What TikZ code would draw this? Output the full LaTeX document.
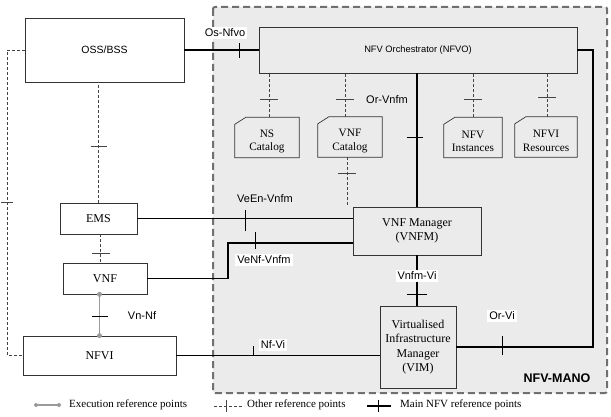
\documentclass[tikz,border=0pt]{standalone}
\usepackage{fontspec}
\setmainfont{Liberation Serif}
\setsansfont{Liberation Sans}
\definecolor{manobg}{HTML}{EBEBEB}
\definecolor{manoedge}{HTML}{707070}
\definecolor{refgray}{HTML}{444444}
\definecolor{execgray}{HTML}{9A9A9A}
\tikzset{
  box/.style={draw=black!80,line width=0.7pt,minimum width=#1,inner sep=1pt,align=center,font=\fontsize{12}{14.5}\selectfont},
  cat/.style={minimum width=#1,minimum height=40pt,inner sep=1pt,align=center,font=\fontsize{11.3}{13.5}\selectfont},
  catedge/.style={draw=black!80,line width=0.7pt},
  lbl/.style={font=\sffamily\fontsize{11}{13}\selectfont,inner sep=2pt},
  wlbl/.style={lbl,fill=white},
  mainref/.style={line width=1.7pt,black},
  otherref/.style={line width=0.8pt,refgray,dash pattern=on 3pt off 2pt},
  execref/.style={line width=1.6pt,execgray},
  tick/.style={line width=1pt,black},
  otick/.style={line width=0.8pt,refgray},
  dot/.style={circle,fill=execgray,inner sep=0pt,minimum size=5pt},
  legtxt/.style={font=\fontsize{11}{13}\selectfont,anchor=west,inner sep=0pt},
}
\begin{document}
\begin{tikzpicture}[x=1pt,y=-1pt]
\useasboundingbox (0,0) rectangle (611,417);
% MANO region
\draw[manoedge,fill=manobg,line width=2pt,dash pattern=on 7pt off 4pt,rounded corners=2pt] (213,7) rectangle (607,393);
\node[font=\sffamily\bfseries\fontsize{12.5}{14}\selectfont] (manolbl) at (557,378) {NFV-MANO};

% boxes
\node[box=159pt,minimum height=64pt,fill=white,font=\sffamily\fontsize{10.5}{12}\selectfont] (oss) at (104.5,50) {OSS/BSS};
\node[box=318pt,minimum height=46pt,font=\sffamily\fontsize{9.3}{11}\selectfont] (nfvo) at (418,50) {NFV Orchestrator (NFVO)};
\node[box=77pt,minimum height=31pt,fill=white] (ems) at (98.5,218.5) {EMS};
\node[box=84pt,minimum height=31pt,fill=white] (vnf) at (105,278.5) {VNF};
\node[box=153pt,minimum height=39pt,fill=white] (nfvi) at (99.5,355.5) {NFVI};
\node[box=128pt,minimum height=48pt] (vnfm) at (417,231) {VNF Manager\\(VNFM)};
\node[box=76pt,minimum height=82pt] (vim) at (418,347) {Virtualised\\Infrastructure\\Manager\\(VIM)};

% catalogs (text sits slightly low in the outline)
\node[cat=64pt] (ns) at (267,141.5) {NS\\Catalog};
\node[cat=64pt] (vnfc) at (350,141) {VNF\\Catalog};
\node[cat=58pt] (inst) at (473,141.5) {NFV\\Instances};
\node[cat=62pt] (res) at (546,141) {NFVI\\Resources};
\foreach \c in {ns,vnfc,inst,res}{
  \draw[catedge] ([yshift=4pt]\c.south west) -- ([yshift=4pt]\c.south east) -- ([yshift=4pt]\c.north east) -- ([xshift=11pt,yshift=4pt]\c.north west) -- ([yshift=-3pt]\c.north west) -- cycle;
}

% Os-Nfvo
\draw[mainref] (oss.east) -- (nfvo.west);
\draw[tick] (239,43) -- (239,58);
\node[wlbl] (osnfvo) at (225,33) {Os-Nfvo};

% left dashed OSS -- NFVI
\coordinate (lt) at (7,50);
\coordinate (lb) at (7,355.5);
\draw[otherref] (oss.west) -- (lt) -- (lb) -- (nfvi.west);
\draw[otick] (1,202) -- (13,202);

% OSS -- EMS
\draw[otherref] (ems.north) -- (ems.north |- oss.south);
\draw[otick] (90.5,146) -- (106.5,146);
% EMS -- VNF
\draw[otherref] ([xshift=1.5pt]ems.south) -- ([xshift=1.5pt]ems.south |- vnf.north);
\draw[otick] (92,253) -- (110,253);

% Vn-Nf
\draw[execref] (nfvi.north |- vnf.south) -- (nfvi.north);
\node[dot] (d1) at (nfvi.north |- vnf.south) {};
\node[dot] (d2) at (nfvi.north) {};
\draw[tick] (91.5,316) -- (107.5,316);
\node[lbl] (vnnf) at (142,316) {Vn-Nf};

% VeEn-Vnfm
\draw[mainref] (ems.east) -- (ems.east -| vnfm.west);
\draw[tick] (245,210) -- (245,231);
\node[lbl] (veen) at (265,199) {VeEn-Vnfm};

% VeNf-Vnfm
\coordinate (vk1) at (228,278.5);
\coordinate (vk2) at (228,243);
\draw[mainref] (vnf.east) -- (vk1) -- (vk2) -- (vk2 -| vnfm.west);
\draw[tick] (255,232) -- (255,249);
\node[wlbl] (venf) at (264,260) {VeNf-Vnfm};

% Nf-Vi
\draw[mainref] (nfvi.east) -- (nfvi.east -| vim.west);
\draw[tick] (253,346) -- (253,356);
\node[wlbl] (nfvilbl) at (273,345) {Nf-Vi};

% catalog references
\draw[otherref] ([xshift=2pt,yshift=4pt]ns.north) -- ([xshift=2pt]ns.north |- nfvo.south);
\draw[otick] (260,99) -- (278,99);
\draw[otherref] ([xshift=-5pt,yshift=4pt]vnfc.north) -- ([xshift=-5pt]vnfc.north |- nfvo.south);
\draw[otick] (336,99) -- (354,99);
\draw[otherref] ([xshift=-3pt,yshift=4pt]vnfc.south) -- ([xshift=-3pt]vnfc.south |- vnfm.north);
\draw[otick] (338,173) -- (356,173);
\draw[otherref] ([yshift=4pt]inst.north) -- (inst.north |- nfvo.south);
\draw[otick] (464,99) -- (482,99);
\draw[otherref] ([xshift=1pt,yshift=4pt]res.north) -- ([xshift=1pt]res.north |- nfvo.south);
\draw[otick] (538,97) -- (556,97);

% Or-Vnfm
\draw[mainref] (vnfm.north) -- (vnfm.north |- nfvo.south);
\draw[tick] (407,138) -- (423,138);
\node[lbl] (orvnfm) at (387,100) {Or-Vnfm};

% Vnfm-Vi
\draw[mainref] (vnfm.south) -- (vnfm.south |- vim.north);
\node[wlbl] (vnfmvi) at (417,276) {Vnfm-Vi};
\draw[tick] (407,294) -- (427,294);

% Or-Vi
\coordinate (ov1) at (593,50);
\coordinate (ov2) at (593,347);
\draw[mainref] (nfvo.east) -- (ov1) -- (ov2) -- (vim.east);
\draw[tick] (502,336) -- (502,355);
\node[wlbl] (orvi) at (502,316) {Or-Vi};

% legend
\coordinate (e1) at (36,405);
\coordinate (e2) at (59,405);
\draw[execref,line width=1.2pt] (e1) -- (e2);
\node[dot,minimum size=4pt] (e1d) at (e1) {};
\node[dot,minimum size=4pt] (e2d) at (e2) {};
\node[legtxt] (t1) at (69,405) {Execution reference points};
\coordinate (o1) at (214,406);
\coordinate (o2) at (244,406);
\draw[otherref,line width=0.7pt] (o1) -- (o2);
\draw[otick,line width=0.7pt] (226,400) -- (226,412);
\node[legtxt] (t2) at (247,405) {Other reference points};
\coordinate (m1) at (367,406);
\coordinate (m2) at (391,406);
\draw[mainref,line width=1.5pt] (m1) -- (m2);
\draw[tick] (378,400) -- (378,412);
\node[legtxt] (t3) at (400,405) {Main NFV reference points};
\end{tikzpicture}
\end{document}
